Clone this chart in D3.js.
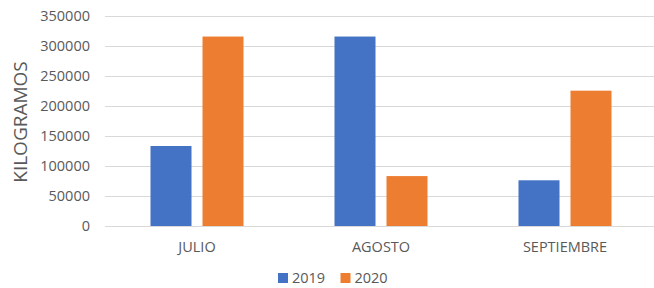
<!DOCTYPE html>
<html><head><meta charset="utf-8">
<script src="https://cdn.jsdelivr.net/npm/d3@7"></script>
<style>body{margin:0;background:#fff}svg{display:block}text{font-family:"Open Sans",sans-serif;fill:#595959}</style>
</head><body>
<svg id="c" width="654" height="288"></svg>
<script>
const categories = ["JULIO", "AGOSTO", "SEPTIEMBRE"];
const seriesNames = ["2019", "2020"];
const values2019 = [133000, 315000, 76000];
const values2020 = [315000, 83000, 225000];
const yTicks = [0, 50000, 100000, 150000, 200000, 250000, 300000, 350000];
const colors = ["#4472C4", "#ED7D31"];

(function () {
const svg = d3.select("#c");
const mLeft = 105, mRight = 657, mTop = 15.5, mBottom = 226;
const x = d3.scaleBand().domain(categories).range([mLeft, mRight]);
const x1 = d3.scaleBand().domain(seriesNames).range([0, 93]).paddingInner(11/52);
const y = d3.scaleLinear().domain([0, 350000]).range([mBottom, mTop]);

// grid
svg.append("g").selectAll("line").data(yTicks).join("line")
  .attr("x1", mLeft).attr("x2", 654)
  .attr("y1", d => Math.round(y(d)) + 0.5).attr("y2", d => Math.round(y(d)) + 0.5)
  .attr("stroke", "#D9D9D9").attr("stroke-width", 1);

// y axis labels
const yAxis = d3.axisLeft(y).tickValues(yTicks).tickSize(0).tickPadding(0).tickFormat(d3.format("d"));
const ya = svg.append("g").attr("transform", "translate(90,0)").call(yAxis);
ya.select(".domain").remove();
ya.selectAll("text").style("font-size", "14.5px").attr("fill", "#595959").attr("font-family", "Open Sans");

// bars
const data = categories.map((c, i) => ({c, vals: [values2019[i], values2020[i]]}));
const g = svg.append("g").selectAll("g").data(data).join("g")
  .attr("transform", d => `translate(${x(d.c) + (x.bandwidth() - 93) / 2},0)`);
g.selectAll("rect").data(d => d.vals.map((v, k) => ({k, v}))).join("rect")
  .attr("x", d => x1(seriesNames[d.k]))
  .attr("width", x1.bandwidth())
  .attr("y", d => y(d.v))
  .attr("height", d => y(0) - y(d.v))
  .attr("fill", d => colors[d.k]);

// x axis
const xAxis = d3.axisBottom(x).tickSize(0).tickPadding(0);
const xa = svg.append("g").attr("transform", `translate(0,${mBottom})`).call(xAxis);
xa.select(".domain").remove();
xa.selectAll("text").attr("dy", null).attr("y", 26).style("font-size", "14.5px").attr("fill", "#595959").attr("font-family", "Open Sans");

// y title
svg.append("text").attr("transform", "translate(27,122) rotate(-90)")
  .attr("text-anchor", "middle").style("font-size", "19px").text("KILOGRAMOS");

// legend
const leg = svg.append("g").selectAll("g").data(seriesNames).join("g")
  .attr("transform", (d, i) => `translate(${278 + i * 62.5},273)`);
leg.append("rect").attr("width", 10).attr("height", 10).attr("fill", (d, i) => colors[i]);
leg.append("text").attr("x", 14).attr("y", 10).style("font-size", "14.5px").text(d => d);
})();
</script>
</body></html>
